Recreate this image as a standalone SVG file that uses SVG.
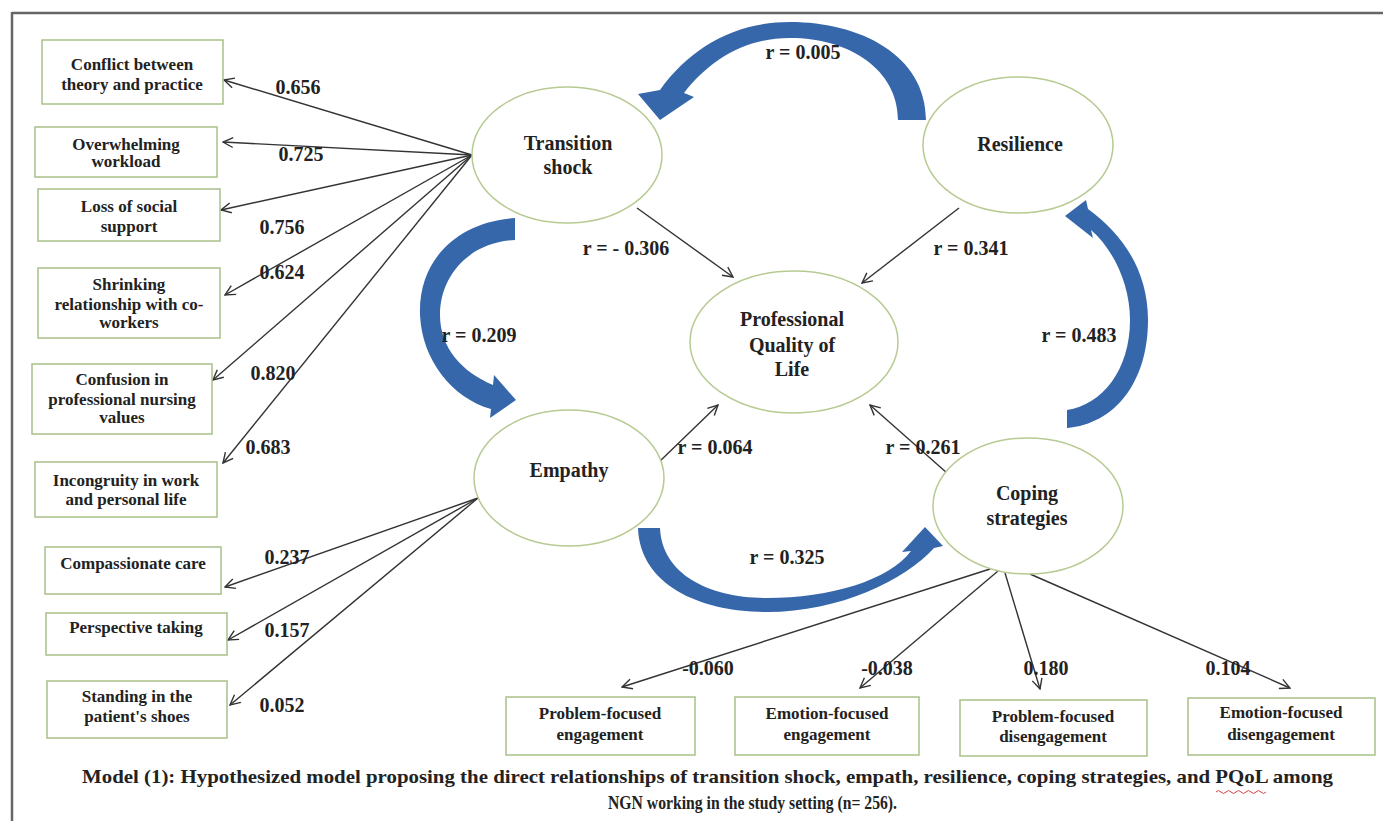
<svg xmlns="http://www.w3.org/2000/svg" width="1383" height="821" viewBox="0 0 1383 821">
<style>
text{font-family:"Liberation Serif","Times New Roman",serif;font-weight:bold;fill:#222}
.bx{fill:#fff;stroke:#a9c089;stroke-width:1.5}
.el{fill:#fff;stroke:#b6ca92;stroke-width:1.5}
.bt{font-size:17px;text-anchor:middle}
.nt{font-size:20px;text-anchor:middle}
.lb{font-size:20px;text-anchor:middle}
.cn line{stroke:#333;stroke-width:1.4;marker-end:url(#ah)}
.blue{fill:#3667aa}
</style>
<defs>
<marker id="ah" viewBox="0 0 12 12" refX="11" refY="6" markerWidth="12" markerHeight="12" markerUnits="userSpaceOnUse" orient="auto">
<path d="M1,1 L11,6 L1,11" fill="none" stroke="#333" stroke-width="1.4"/>
</marker>
</defs>
<rect width="1383" height="821" fill="#fff"/>
<g id="frame" stroke="#666" stroke-width="2.5" fill="none">
<line x1="12" y1="13" x2="1383" y2="13"/>
<line x1="12" y1="12" x2="12" y2="821"/>
</g>

<g id="connectors" class="cn">
<line x1="472" y1="155" x2="224" y2="80"/>
<line x1="472" y1="155" x2="223" y2="142"/>
<line x1="472" y1="155" x2="221" y2="210"/>
<line x1="472" y1="155" x2="225" y2="295"/>
<line x1="472" y1="155" x2="213" y2="380"/>
<line x1="472" y1="155" x2="223" y2="463"/>
<line x1="478" y1="498" x2="225" y2="587"/>
<line x1="478" y1="498" x2="228" y2="640"/>
<line x1="478" y1="498" x2="230" y2="705"/>
<line x1="990" y1="569" x2="622" y2="687"/>
<line x1="998" y1="571" x2="860" y2="688"/>
<line x1="1005" y1="573" x2="1040" y2="689"/>
<line x1="1030" y1="574" x2="1290" y2="688"/>
<line x1="637" y1="208" x2="733" y2="277"/>
<line x1="959" y1="208" x2="862" y2="283"/>
<line x1="658" y1="463" x2="718" y2="405"/>
<line x1="947" y1="473" x2="870" y2="405"/>
</g>

<g id="curved-arrows">
<path class="blue" d="M926,120 C926,55 860,22 790,22 C735,22 690,48 660,90 L638,94 L660,120 L694,97 L684,93 C710,60 745,38 790,38 C850,38 898,70 898,120 Z"/>
<path class="blue" d="M515,218 C455,222 418,262 420,315 C422,360 452,398 491,409 L490,418 L516,400 L494,375 L493,385 C462,372 440,348 440,315 C440,275 470,242 515,240 Z"/>
<path class="blue" d="M638,528 C640,585 700,612 767,612 C840,612 905,580 934,548 L943,546 L925,527 L902,552 L911,551 C890,580 830,598 767,598 C710,598 662,575 660,528 Z"/>
<path class="blue" d="M1067,428 C1115,424 1148,382 1148,320 C1148,272 1124,235 1088,209 L1086,200 L1065,216 L1093,238 L1091,230 C1114,250 1130,285 1130,320 C1130,370 1102,405 1067,410 Z"/>
</g>

<g id="n-transition"><ellipse class="el" cx="567" cy="155" rx="95" ry="68"/><text class="nt" x="568" y="150">Transition</text><text class="nt" x="568" y="174">shock</text></g>
<g id="n-resilience"><ellipse class="el" cx="1018" cy="145" rx="95" ry="68"/><text class="nt" x="1020" y="151">Resilience</text></g>
<g id="n-pqol"><ellipse class="el" cx="794" cy="342" rx="104" ry="71"/><text class="nt" x="792" y="326">Professional</text><text class="nt" x="792" y="352">Quality of</text><text class="nt" x="792" y="376">Life</text></g>
<g id="n-empathy"><ellipse class="el" cx="569" cy="478" rx="95" ry="68"/><text class="nt" x="569" y="477">Empathy</text></g>
<g id="n-coping"><ellipse class="el" cx="1028" cy="506" rx="95" ry="68"/><text class="nt" x="1027" y="500">Coping</text><text class="nt" x="1027" y="525">strategies</text></g>

<g id="b1"><rect class="bx" x="42" y="40" width="181" height="64"/><text class="bt" x="132" y="70">Conflict between</text><text class="bt" x="132" y="90">theory and practice</text></g>
<g id="b2"><rect class="bx" x="35" y="127" width="182" height="50"/><text class="bt" x="126" y="150">Overwhelming</text><text class="bt" x="126" y="167">workload</text></g>
<g id="b3"><rect class="bx" x="38" y="189" width="182" height="52"/><text class="bt" x="129" y="212">Loss of social</text><text class="bt" x="129" y="232">support</text></g>
<g id="b4"><rect class="bx" x="38" y="268" width="182" height="70"/><text class="bt" x="129" y="290">Shrinking</text><text class="bt" x="129" y="310">relationship with co-</text><text class="bt" x="129" y="328">workers</text></g>
<g id="b5"><rect class="bx" x="32" y="364" width="180" height="70"/><text class="bt" x="122" y="385">Confusion in</text><text class="bt" x="122" y="405">professional nursing</text><text class="bt" x="122" y="423">values</text></g>
<g id="b6"><rect class="bx" x="35" y="462" width="182" height="55"/><text class="bt" x="126" y="486">Incongruity in work</text><text class="bt" x="126" y="505">and personal life</text></g>
<g id="b7"><rect class="bx" x="45" y="547" width="176" height="47"/><text class="bt" x="133" y="569">Compassionate care</text></g>
<g id="b8"><rect class="bx" x="46" y="613" width="181" height="42"/><text class="bt" x="136" y="633">Perspective taking</text></g>
<g id="b9"><rect class="bx" x="47" y="681" width="180" height="57"/><text class="bt" x="137" y="702">Standing in the</text><text class="bt" x="137" y="722">patient's shoes</text></g>
<g id="b10"><rect class="bx" x="506" y="697" width="189" height="58"/><text class="bt" x="600" y="719">Problem-focused</text><text class="bt" x="600" y="740">engagement</text></g>
<g id="b11"><rect class="bx" x="735" y="697" width="184" height="58"/><text class="bt" x="827" y="719">Emotion-focused</text><text class="bt" x="827" y="740">engagement</text></g>
<g id="b12"><rect class="bx" x="960" y="700" width="187" height="56"/><text class="bt" x="1053" y="722">Problem-focused</text><text class="bt" x="1053" y="742">disengagement</text></g>
<g id="b13"><rect class="bx" x="1188" y="698" width="187" height="57"/><text class="bt" x="1281" y="718">Emotion-focused</text><text class="bt" x="1281" y="740">disengagement</text></g>

<g id="labels">
<text class="lb" x="298" y="94">0.656</text>
<text class="lb" x="301" y="161">0.725</text>
<text class="lb" x="282" y="234">0.756</text>
<text class="lb" x="282" y="279">0.624</text>
<text class="lb" x="273" y="380">0.820</text>
<text class="lb" x="268" y="454">0.683</text>
<text class="lb" x="287" y="564">0.237</text>
<text class="lb" x="287" y="637">0.157</text>
<text class="lb" x="282" y="712">0.052</text>
<text class="lb" x="708" y="675">-0.060</text>
<text class="lb" x="887" y="675">-0.038</text>
<text class="lb" x="1046" y="675">0.180</text>
<text class="lb" x="1228" y="675">0.104</text>
<text class="lb" x="803" y="59">r = 0.005</text>
<text class="lb" x="626" y="255">r = - 0.306</text>
<text class="lb" x="971" y="255">r = 0.341</text>
<text class="lb" x="479" y="342">r = 0.209</text>
<text class="lb" x="715" y="454">r = 0.064</text>
<text class="lb" x="923" y="454">r = 0.261</text>
<text class="lb" x="787" y="564">r = 0.325</text>
<text class="lb" x="1079" y="342">r = 0.483</text>
</g>

<g id="caption">
<text x="82" y="783" font-size="19" textLength="1251" lengthAdjust="spacingAndGlyphs">Model (1): Hypothesized model proposing the direct relationships of transition shock, empath, resilience, coping strategies, and PQoL among</text>
<text x="608" y="809" font-size="19" textLength="289" lengthAdjust="spacingAndGlyphs">NGN working in the study setting (n= 256).</text>
<path d="M1216,792 q2.5,-3 5,0 t5,0 t5,0 t5,0 t5,0 t5,0 t5,0 t5,0 t5,0 t5,0" fill="none" stroke="#d04040" stroke-width="1"/>
</g>
</svg>
